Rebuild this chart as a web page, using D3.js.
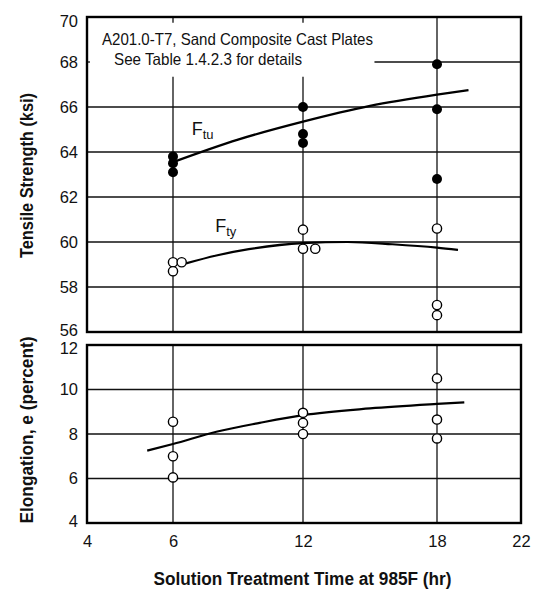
<!DOCTYPE html>
<html>
<head>
<meta charset="utf-8">
<script src="https://cdn.jsdelivr.net/npm/d3@7"></script>
<style>
  body { margin: 0; background: #fff; }
  text { font-family: "Liberation Sans Narrow", "Arial Narrow", "Liberation Sans", Arial, sans-serif; fill: #111; }
</style>
</head>
<body>
<div id="chart"></div>
<script>
// x axis ticks (hours) - the original axis is not evenly spaced
const hourTicks = [4, 6, 12, 18, 22];
const strengthTicks = [56, 58, 60, 62, 64, 66, 68, 70];
const elongTicks = [4, 6, 8, 10, 12];

// Ftu test points (filled)
const ftuX = [6, 6, 6, 12, 12, 12, 18, 18, 18];
const ftuY = [63.8, 63.5, 63.1, 66.0, 64.8, 64.4, 67.9, 65.9, 62.8];

// Fty test points (open) - offset x values are the jittered ones
const ftyX = [6, 6.4, 6, 12, 12, 12.55, 18, 18, 18];
const ftyY = [59.1, 59.1, 58.7, 60.55, 59.7, 59.7, 60.6, 57.2, 56.75];

// elongation points (open)
const elX = [6, 6, 6, 12, 12, 12, 18, 18, 18];
const elY = [8.55, 7.0, 6.05, 8.95, 8.5, 8.0, 10.5, 8.65, 7.8];

// fitted curves
const ftuCurve = [[6, 63.55], [9, 64.55], [12, 65.35], [15, 66.05], [18, 66.55], [19.5, 66.75]];
const ftyCurve = [[6.6, 59.05], [8, 59.4], [9.5, 59.68], [12, 59.95], [14, 60.0], [16, 59.9], [18, 59.75], [19, 59.65]];
const elCurve = [[5.4, 7.25], [6, 7.55], [8, 8.1], [10, 8.5], [12, 8.85], [15, 9.15], [18, 9.35], [19.3, 9.42]];

const width = 538, height = 593;
const margin = { left: 87, right: 17 };
const top1 = 17, bot1 = 332, top2 = 345, bot2 = 523;

const svg = d3.select("#chart").append("svg")
    .attr("width", width)
    .attr("height", height);

// polylinear scale since tick spacing on the original is uneven
const x = d3.scaleLinear()
    .domain(hourTicks)
    .range([0, 86, 216, 350, 434].map(d => d + margin.left));

const y1 = d3.scaleLinear().domain([56, 70]).range([bot1, top1]);
const y2 = d3.scaleLinear().domain([4, 12]).range([bot2, top2]);

const gridColor = "#111";

// ---------- top panel gridlines ----------
const g1 = svg.append("g");
// horizontal (68 line is hidden under the note on the left)
g1.selectAll(".hgrid")
  .data(strengthTicks.filter(d => d > 56 && d < 70))
  .enter().append("line")
    .attr("x1", d => d === 68 ? x(15.2) : x(4))
    .attr("x2", x(22))
    .attr("y1", d => y1(d))
    .attr("y2", d => y1(d))
    .attr("stroke", gridColor)
    .attr("stroke-width", 1.3);
// vertical (6 and 12 interrupted by the note)
g1.selectAll(".vgrid")
  .data([6, 12, 18])
  .enter().append("line")
    .attr("x1", d => x(d))
    .attr("x2", d => x(d))
    .attr("y1", d => d === 18 ? y1(70) : y1(67.35))
    .attr("y2", y1(56))
    .attr("stroke", gridColor)
    .attr("stroke-width", 1.3);
// small tick stubs where the note covers lines
g1.selectAll(".stub")
  .data([6, 12])
  .enter().append("line")
    .attr("x1", d => x(d)).attr("x2", d => x(d))
    .attr("y1", y1(70)).attr("y2", y1(69.75))
    .attr("stroke", gridColor).attr("stroke-width", 1.3);
g1.append("line")
    .attr("x1", x(4)).attr("x2", x(4) + 3)
    .attr("y1", y1(68)).attr("y2", y1(68))
    .attr("stroke", gridColor).attr("stroke-width", 1.3);

// ---------- bottom panel gridlines ----------
const g2 = svg.append("g");
g2.selectAll(".hgrid")
  .data(elongTicks.filter(d => d > 4 && d < 12))
  .enter().append("line")
    .attr("x1", x(4)).attr("x2", x(22))
    .attr("y1", d => y2(d)).attr("y2", d => y2(d))
    .attr("stroke", gridColor).attr("stroke-width", 1.3);
g2.selectAll(".vgrid")
  .data([6, 12, 18])
  .enter().append("line")
    .attr("x1", d => x(d)).attr("x2", d => x(d))
    .attr("y1", y2(12)).attr("y2", y2(4))
    .attr("stroke", gridColor).attr("stroke-width", 1.3);

// frames
[[top1, bot1], [top2, bot2]].forEach(([t, b]) => {
  svg.append("rect")
    .attr("x", x(4)).attr("y", t)
    .attr("width", x(22) - x(4)).attr("height", b - t)
    .attr("fill", "none")
    .attr("stroke", "#000")
    .attr("stroke-width", 2.4);
});

// ---------- axes ----------
const tickFont = 16.5;
svg.append("g")
    .attr("transform", `translate(${x(4)},0)`)
    .call(d3.axisLeft(y1).tickValues(strengthTicks).tickSize(0).tickPadding(9))
    .call(g => g.select(".domain").remove())
    .call(g => g.selectAll("text")
        .attr("font-size", tickFont)
        .attr("dy", d => d === 70 ? "0.6em" : d === 56 ? "0.2em" : "0.32em"));

svg.append("g")
    .attr("transform", `translate(${x(4)},0)`)
    .call(d3.axisLeft(y2).tickValues(elongTicks).tickSize(0).tickPadding(9))
    .call(g => g.select(".domain").remove())
    .call(g => g.selectAll("text")
        .attr("font-size", tickFont)
        .attr("dy", d => d === 12 ? "0.5em" : d === 4 ? "0.2em" : "0.32em"));

svg.append("g")
    .attr("transform", `translate(0,${bot2})`)
    .call(d3.axisBottom(x).tickValues(hourTicks).tickSize(0).tickPadding(12))
    .call(g => g.select(".domain").remove())
    .selectAll("text").attr("font-size", tickFont);

svg.selectAll(".tick text").style("font-family", null).attr("fill", "#111");

// ---------- curves ----------
const line1 = d3.line().x(d => x(d[0])).y(d => y1(d[1])).curve(d3.curveMonotoneX);
const line2 = d3.line().x(d => x(d[0])).y(d => y2(d[1])).curve(d3.curveMonotoneX);

svg.append("path").datum(ftuCurve).attr("d", line1)
   .attr("fill", "none").attr("stroke", "#000").attr("stroke-width", 2.2);
svg.append("path").datum(ftyCurve).attr("d", line1)
   .attr("fill", "none").attr("stroke", "#000").attr("stroke-width", 2.2);
svg.append("path").datum(elCurve).attr("d", line2)
   .attr("fill", "none").attr("stroke", "#000").attr("stroke-width", 2.2);

// ---------- points ----------
svg.selectAll(".ftu")
  .data(ftuX.map((d, i) => [d, ftuY[i]]))
  .enter().append("circle")
    .attr("cx", d => x(d[0]))
    .attr("cy", d => y1(d[1]))
    .attr("r", 5)
    .attr("fill", "#000");

svg.selectAll(".fty")
  .data(ftyX.map((d, i) => [d, ftyY[i]]))
  .enter().append("circle")
    .attr("cx", d => x(d[0]))
    .attr("cy", d => y1(d[1]))
    .attr("r", 4.6)
    .attr("fill", "#fff")
    .attr("stroke", "#000")
    .attr("stroke-width", 1.4);

svg.selectAll(".el")
  .data(elX.map((d, i) => [d, elY[i]]))
  .enter().append("circle")
    .attr("cx", d => x(d[0]))
    .attr("cy", d => y2(d[1]))
    .attr("r", 4.6)
    .attr("fill", "#fff")
    .attr("stroke", "#000")
    .attr("stroke-width", 1.4);

// ---------- labels ----------
svg.append("text")
    .attr("x", 102).attr("y", 45)
    .attr("font-size", 16.5)
    .attr("textLength", 271).attr("lengthAdjust", "spacingAndGlyphs")
    .text("A201.0-T7, Sand Composite Cast Plates");
svg.append("text")
    .attr("x", 114).attr("y", 64.5)
    .attr("font-size", 16.5)
    .attr("textLength", 188).attr("lengthAdjust", "spacingAndGlyphs")
    .text("See Table 1.4.2.3 for details");

function curveLabel(xv, yv, sub) {
  const t = svg.append("text")
      .attr("x", x(xv)).attr("y", y1(yv))
      .attr("font-size", 18);
  t.append("tspan").text("F");
  t.append("tspan").attr("font-size", 13).attr("dy", 4).text(sub);
}
curveLabel(6.86, 64.75, "tu");
curveLabel(7.95, 60.45, "ty");

svg.append("text")
    .attr("transform", `translate(33,${(top1 + bot1) / 2 + 1}) rotate(-90)`)
    .attr("text-anchor", "middle")
    .attr("font-size", 18).attr("font-weight", "bold")
    .attr("textLength", 165).attr("lengthAdjust", "spacingAndGlyphs")
    .text("Tensile Strength (ksi)");

svg.append("text")
    .attr("transform", `translate(33,430) rotate(-90)`)
    .attr("text-anchor", "middle")
    .attr("font-size", 18).attr("font-weight", "bold")
    .attr("textLength", 187).attr("lengthAdjust", "spacingAndGlyphs")
    .text("Elongation, e (percent)");

svg.append("text")
    .attr("x", 302.5).attr("y", 585)
    .attr("text-anchor", "middle")
    .attr("font-size", 18).attr("font-weight", "bold")
    .attr("textLength", 298).attr("lengthAdjust", "spacingAndGlyphs")
    .text("Solution Treatment Time at 985F (hr)");
</script>
</body>
</html>
